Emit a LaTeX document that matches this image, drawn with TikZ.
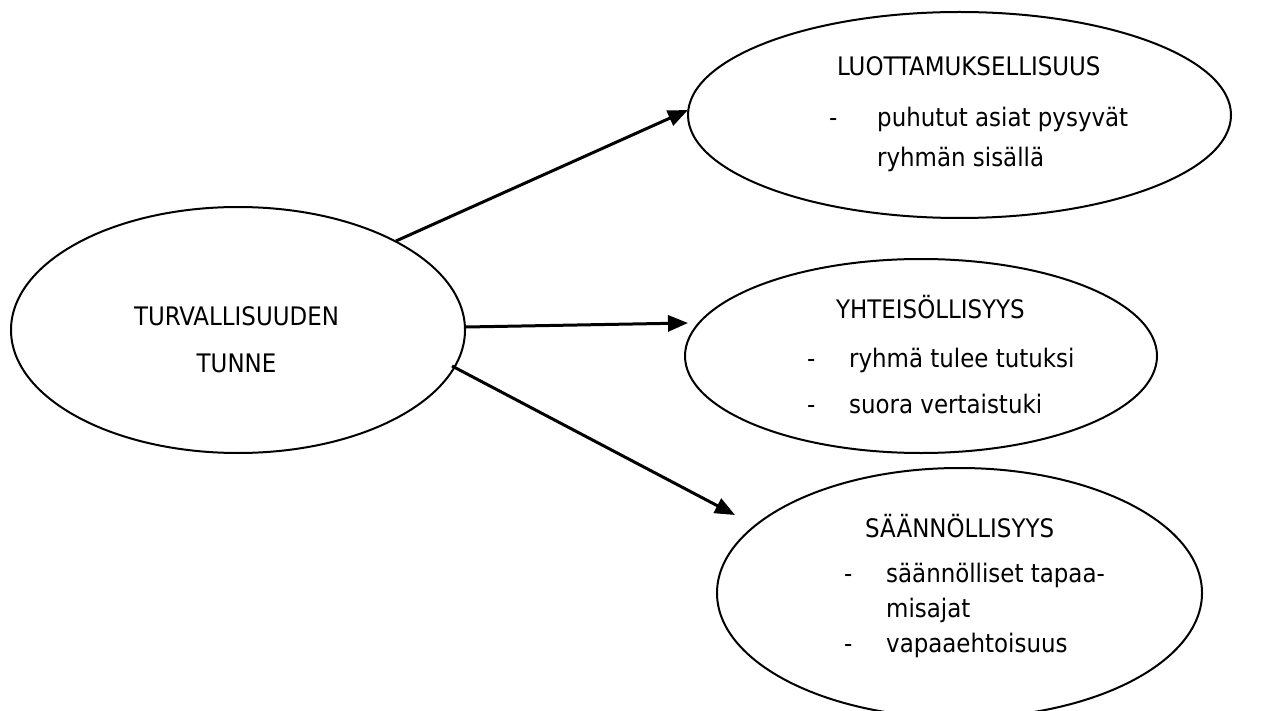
\documentclass[tikz,border=0pt]{standalone}
\usepackage{fontspec}
\setmainfont{DejaVu Sans Condensed}
\usetikzlibrary{shapes.geometric,arrows.meta}
\begin{document}
\begin{tikzpicture}[x=1pt,y=-1pt,
  bubble/.style={draw,ellipse,line width=2pt,inner sep=0pt},
  conn/.style={line width=3pt,-{Triangle[length=20pt,width=16pt]}},
  txt/.style={anchor=base west,inner sep=0pt,font=\fontsize{25.5}{30}\selectfont},
  ctxt/.style={anchor=base,inner sep=0pt,font=\fontsize{25.5}{30}\selectfont}]
\useasboundingbox (0,0) rectangle (1268,711);
\clip (0,0) rectangle (1268,711);
\node[bubble,minimum width=454pt,minimum height=246pt] (main) at (238,330) {};
\node[bubble,minimum width=543pt,minimum height=206pt] (e1) at (959.5,115) {};
\node[bubble,minimum width=472pt,minimum height=194pt] (e2) at (921,356) {};
\node[bubble,minimum width=485pt,minimum height=250pt] (e3) at (959.5,593) {};
% main text
\node[ctxt] (m1) at (236.5,325) {TURVALLISUUDEN};
\node[ctxt] (m2) at (236.5,372) {TUNNE};
% top
\node[txt] (t0) at (837,76) {LUOTTAMUKSELLISUUS};
\node[txt] (t1d) at (829,127) {-};
\node[txt] (t1) at (877,127) {puhutut asiat pysyvät};
\node[txt] (t2) at (877,167) {ryhmän sisällä};
% middle
\node[txt] (y0) at (836,318) {YHTEISÖLLISYYS};
\node[txt] (y1d) at (807,367) {-};
\node[txt] (y1) at (849,367) {ryhmä tulee tutuksi};
\node[txt] (y2d) at (807,413) {-};
\node[txt] (y2) at (849,413) {suora vertaistuki};
% bottom
\node[txt] (s0) at (865,537) {SÄÄNNÖLLISYYS};
\node[txt] (s1d) at (844,582) {-};
\node[txt] (s1) at (886,582) {säännölliset tapaa-};
\node[txt] (s2) at (886,617) {misajat};
\node[txt] (s3d) at (844,652) {-};
\node[txt] (s3) at (886,652) {vapaaehtoisuus};
% connector endpoints
\coordinate (a1s) at (396,241);
\coordinate (a1e) at (688,110);
\coordinate (a2s) at (466,327);
\coordinate (a2e) at (688,323);
\coordinate (a3s) at (452,366);
\coordinate (a3e) at (735,515);
\draw[conn] (a1s) -- (a1e);
\draw[conn] (a2s) -- (a2e);
\draw[conn] (a3s) -- (a3e);
\end{tikzpicture}
\end{document}
